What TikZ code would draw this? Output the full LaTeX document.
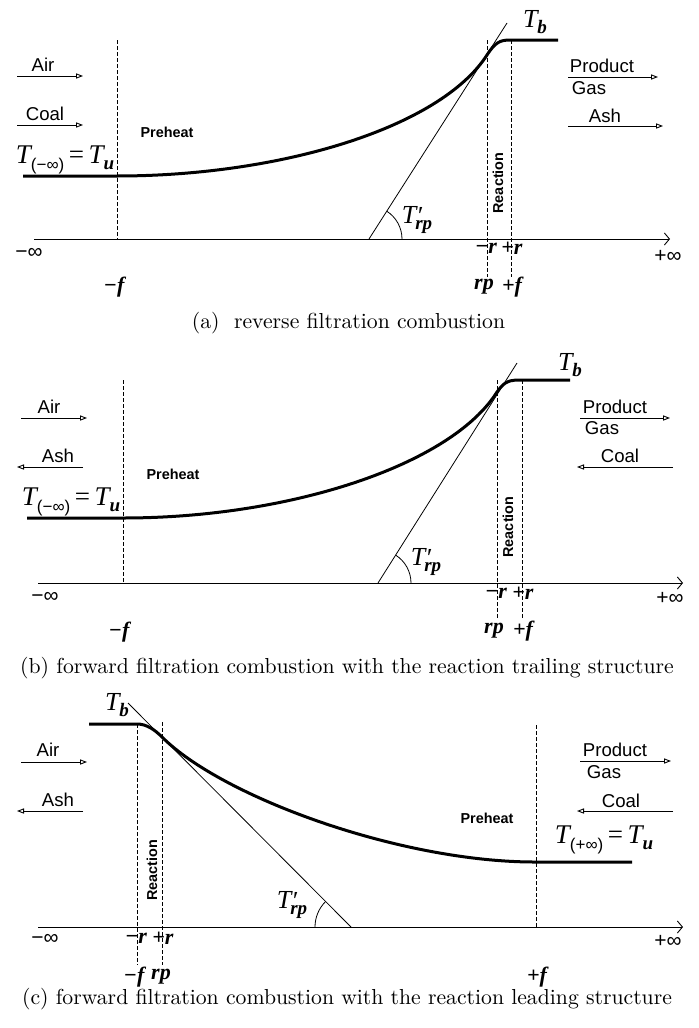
\documentclass[tikz,border=0pt]{standalone}
\usepackage{fontspec}
\newfontfamily\sansf{Liberation Sans}
\newfontfamily\serf{Liberation Serif}
\usetikzlibrary{arrows.meta,angles}
\newcommand{\TT}{{\serf\itshape T}}
\newcommand{\subs}[1]{\raisebox{-0.5ex}{\serf\bfseries\itshape\fontsize{9.5}{9.5}\selectfont #1}}
\newcommand{\Tb}{{\fontsize{13}{13}\selectfont\TT\subs{b}}}
\newcommand{\Trp}{{\fontsize{13}{13}\selectfont\TT\makebox[0pt][l]{\raisebox{-0.1ex}{\serf\itshape\fontsize{13}{13}\selectfont ′}}\kern-0.5pt\subs{rp}}}
\newcommand{\Tinf}[1]{{\fontsize{13.5}{14}\selectfont\TT\raisebox{-0.55ex}{\sansf\fontsize{8.5}{9}\selectfont(#1∞)}\,{\serf =}\,\TT\subs{u}}}
\begin{document}
\begin{tikzpicture}[x=0.5pt,y=-0.5pt,
  profile/.style={line width=1.5pt},
  thinline/.style={line width=0.4pt},
  dashline/.style={line width=0.4pt,dash pattern=on 1.8pt off 1.2pt},
  flow/.style={line width=0.45pt,-{Triangle[open,length=3.5pt,width=2.6pt]}},
  axisline/.style={line width=0.45pt,-{Straight Barb[length=2.5pt,width=6pt]}},
  lbl/.style={font=\sansf\fontsize{9.3}{10}\selectfont,inner sep=0pt},
  smalllbl/.style={font=\sansf\bfseries\fontsize{7.2}{8}\selectfont,inner sep=0pt},
  inflbl/.style={font=\sansf\fontsize{10.5}{11}\selectfont,inner sep=0pt},
  poslbl/.style={font=\serf\bfseries\itshape\fontsize{11}{11}\selectfont,inner sep=0pt},
  capt/.style={font=\fontsize{10.85}{12}\selectfont,inner sep=0pt},
  arcang/.style={draw,line width=0.4pt,angle radius=16.5pt}]
\useasboundingbox (0,0) rectangle (698,1028);
% ================= panel (a)
\coordinate (a-ax0) at (34,239); \coordinate (a-ax1) at (670,239);
\draw[axisline] (a-ax0) -- (a-ax1);
\node[inflbl] (a-minf) at (29,253) {−∞};
\node[inflbl] (a-pinf) at (668,256) {+∞};
\coordinate (a-f0) at (117,40); \coordinate (a-f1) at (117,239);
\draw[dashline] (a-f0) -- (a-f1);
\node[poslbl] (a-fl) at (114,287) {−f};
\coordinate (a-r0t) at (487,40); \coordinate (a-r0b) at (487,277);
\coordinate (a-r1t) at (511,40); \coordinate (a-r1b) at (511,277);
\draw[dashline] (a-r0t) -- (a-r0b);
\draw[dashline] (a-r1t) -- (a-r1b);
\node[poslbl] (a-mr) at (486,248) {−r};
\node[poslbl] (a-pr) at (512,248) {+r};
\node[poslbl] (a-rp) at (484,287) {rp};
\node[poslbl] (a-pf) at (512,287) {+f};
\node[smalllbl,rotate=90] (a-reac) at (498,183) {Reaction};
\node[smalllbl] (a-pre) at (167,132) {Preheat};
\coordinate (a-c0) at (23,176); \coordinate (a-c1) at (117,176);
\coordinate (a-c2) at (487,55); \coordinate (a-c3) at (510,40); \coordinate (a-c4) at (558,40);
\draw[profile] (a-c0) -- (a-c1) .. controls (280,176) and (440,128) .. (a-c2)
  .. controls (495,42.5) and (500,40) .. (a-c3) -- (a-c4);
\coordinate (a-t0) at (369,239); \coordinate (a-t1) at (507,23);
\draw[thinline] (a-t0) -- (a-t1);
\pic[arcang] {angle = a-ax1--a-t0--a-t1};
\node[inner sep=0pt] (a-trp) at (417,220) {\Trp};
\node[inner sep=0pt] (a-tb) at (535,22) {\Tb};
\node[inner sep=0pt] (a-tu) at (65,160) {\Tinf{−}};
\node[lbl] (a-air) at (43,65) {Air};
\coordinate (a-air0) at (17,76); \coordinate (a-air1) at (83,76);
\draw[flow] (a-air0) -- (a-air1);
\node[lbl] (a-coal) at (45,114) {Coal};
\coordinate (a-coal0) at (17,125); \coordinate (a-coal1) at (83,125);
\draw[flow] (a-coal0) -- (a-coal1);
\node[lbl] (a-prod) at (602,66) {Product};
\node[lbl] (a-gas) at (589,88) {Gas};
\coordinate (a-pg0) at (568,77); \coordinate (a-pg1) at (658,77);
\draw[flow] (a-pg0) -- (a-pg1);
\node[lbl] (a-ash) at (605,116) {Ash};
\coordinate (a-ash0) at (568,126); \coordinate (a-ash1) at (663,126);
\draw[flow] (a-ash0) -- (a-ash1);
\node[capt] (a-cap) at (348.5,323) {(a)\ \ reverse filtration combustion};
% ================= panel (b)
\coordinate (b-ax0) at (38,583); \coordinate (b-ax1) at (683,583);
\draw[axisline] (b-ax0) -- (b-ax1);
\node[inflbl] (b-minf) at (45,597) {−∞};
\node[inflbl] (b-pinf) at (670,598) {+∞};
\coordinate (b-f0) at (123,380); \coordinate (b-f1) at (123,583);
\draw[dashline] (b-f0) -- (b-f1);
\node[poslbl] (b-fl) at (119,632) {−f};
\coordinate (b-r0t) at (497,380); \coordinate (b-r0b) at (497,618);
\coordinate (b-r1t) at (522,380); \coordinate (b-r1b) at (522,618);
\draw[dashline] (b-r0t) -- (b-r0b);
\draw[dashline] (b-r1t) -- (b-r1b);
\node[poslbl] (b-mr) at (496,593) {−r};
\node[poslbl] (b-pr) at (523,593) {+r};
\node[poslbl] (b-rp) at (494,631) {rp};
\node[poslbl] (b-pf) at (523,631) {+f};
\node[smalllbl,rotate=90] (b-reac) at (508,527) {Reaction};
\node[smalllbl] (b-pre) at (173,474) {Preheat};
\coordinate (b-c0) at (27,518); \coordinate (b-c1) at (123,518);
\coordinate (b-c2) at (497,392); \coordinate (b-c3) at (522,380); \coordinate (b-c4) at (570,380);
\draw[profile] (b-c0) -- (b-c1) .. controls (290,518) and (451,465) .. (b-c2)
  .. controls (505,380.5) and (510,380) .. (b-c3) -- (b-c4);
\coordinate (b-t0) at (378,583); \coordinate (b-t1) at (517,363);
\draw[thinline] (b-t0) -- (b-t1);
\pic[arcang] {angle = b-ax1--b-t0--b-t1};
\node[inner sep=0pt] (b-trp) at (426,562) {\Trp};
\node[inner sep=0pt] (b-tb) at (570,365) {\Tb};
\node[inner sep=0pt] (b-tu) at (71,502) {\Tinf{−}};
\node[lbl] (b-air) at (49,407) {Air};
\coordinate (b-air0) at (21,418); \coordinate (b-air1) at (87,418);
\draw[flow] (b-air0) -- (b-air1);
\node[lbl] (b-ash) at (58,456) {Ash};
\coordinate (b-ash0) at (83,467); \coordinate (b-ash1) at (17,467);
\draw[flow] (b-ash0) -- (b-ash1);
\node[lbl] (b-prod) at (615,407) {Product};
\node[lbl] (b-gas) at (602,428) {Gas};
\coordinate (b-pg0) at (580,418); \coordinate (b-pg1) at (670,418);
\draw[flow] (b-pg0) -- (b-pg1);
\node[lbl] (b-coal) at (620,456) {Coal};
\coordinate (b-coal0) at (673,467); \coordinate (b-coal1) at (577,467);
\draw[flow] (b-coal0) -- (b-coal1);
\node[capt] (b-cap) at (347,668) {(b)\ forward filtration combustion with the reaction trailing structure};
% ================= panel (c)
\coordinate (c-ax0) at (38,927); \coordinate (c-ax1) at (683,927);
\draw[axisline] (c-ax0) -- (c-ax1);
\node[inflbl] (c-minf) at (45,939) {−∞};
\node[inflbl] (c-pinf) at (668,941) {+∞};
\coordinate (c-r0t) at (137,724); \coordinate (c-r0b) at (137,965);
\coordinate (c-r1t) at (162,722); \coordinate (c-r1b) at (162,965);
\draw[dashline] (c-r0t) -- (c-r0b);
\draw[dashline] (c-r1t) -- (c-r1b);
\node[poslbl] (c-mr) at (136,938) {−r};
\node[poslbl] (c-pr) at (163,938) {+r};
\node[poslbl] (c-fl) at (134,977) {−f};
\node[poslbl] (c-rp) at (161,977) {rp};
\coordinate (c-f0) at (536,725); \coordinate (c-f1) at (536,927);
\draw[dashline] (c-f0) -- (c-f1);
\node[poslbl] (c-pf) at (537,977) {+f};
\node[smalllbl,rotate=90] (c-reac) at (152,870) {Reaction};
\node[smalllbl] (c-pre) at (487,818) {Preheat};
\coordinate (c-c0) at (89,724); \coordinate (c-c1) at (137,724);
\coordinate (c-c2) at (162,737); \coordinate (c-c3) at (535,862); \coordinate (c-c4) at (632,862);
\draw[profile] (c-c0) -- (c-c1) .. controls (146,724) and (154,729) .. (c-c2)
  .. controls (222,797) and (400,862) .. (c-c3) -- (c-c4);
\coordinate (c-t0) at (351,927); \coordinate (c-t1) at (128,703);
\draw[thinline] (c-t1) -- (c-t0);
\pic[arcang,angle radius=18pt] {angle = c-t1--c-t0--c-ax0};
\node[inner sep=0pt] (c-trp) at (292,905) {\Trp};
\node[inner sep=0pt] (c-tb) at (117,705) {\Tb};
\node[inner sep=0pt] (c-tu) at (604,840) {\Tinf{+}};
\node[lbl] (c-air) at (48,750) {Air};
\coordinate (c-air0) at (21,762); \coordinate (c-air1) at (87,762);
\draw[flow] (c-air0) -- (c-air1);
\node[lbl] (c-ash) at (58,800) {Ash};
\coordinate (c-ash0) at (83,811); \coordinate (c-ash1) at (17,811);
\draw[flow] (c-ash0) -- (c-ash1);
\node[lbl] (c-prod) at (615,750) {Product};
\node[lbl] (c-gas) at (604,772) {Gas};
\coordinate (c-pg0) at (580,761); \coordinate (c-pg1) at (671,761);
\draw[flow] (c-pg0) -- (c-pg1);
\node[lbl] (c-coal) at (621,801) {Coal};
\coordinate (c-coal0) at (673,811); \coordinate (c-coal1) at (577,811);
\draw[flow] (c-coal0) -- (c-coal1);
\node[capt] (c-cap) at (347,999) {(c)\ forward filtration combustion with the reaction leading structure};
\end{tikzpicture}
\end{document}
